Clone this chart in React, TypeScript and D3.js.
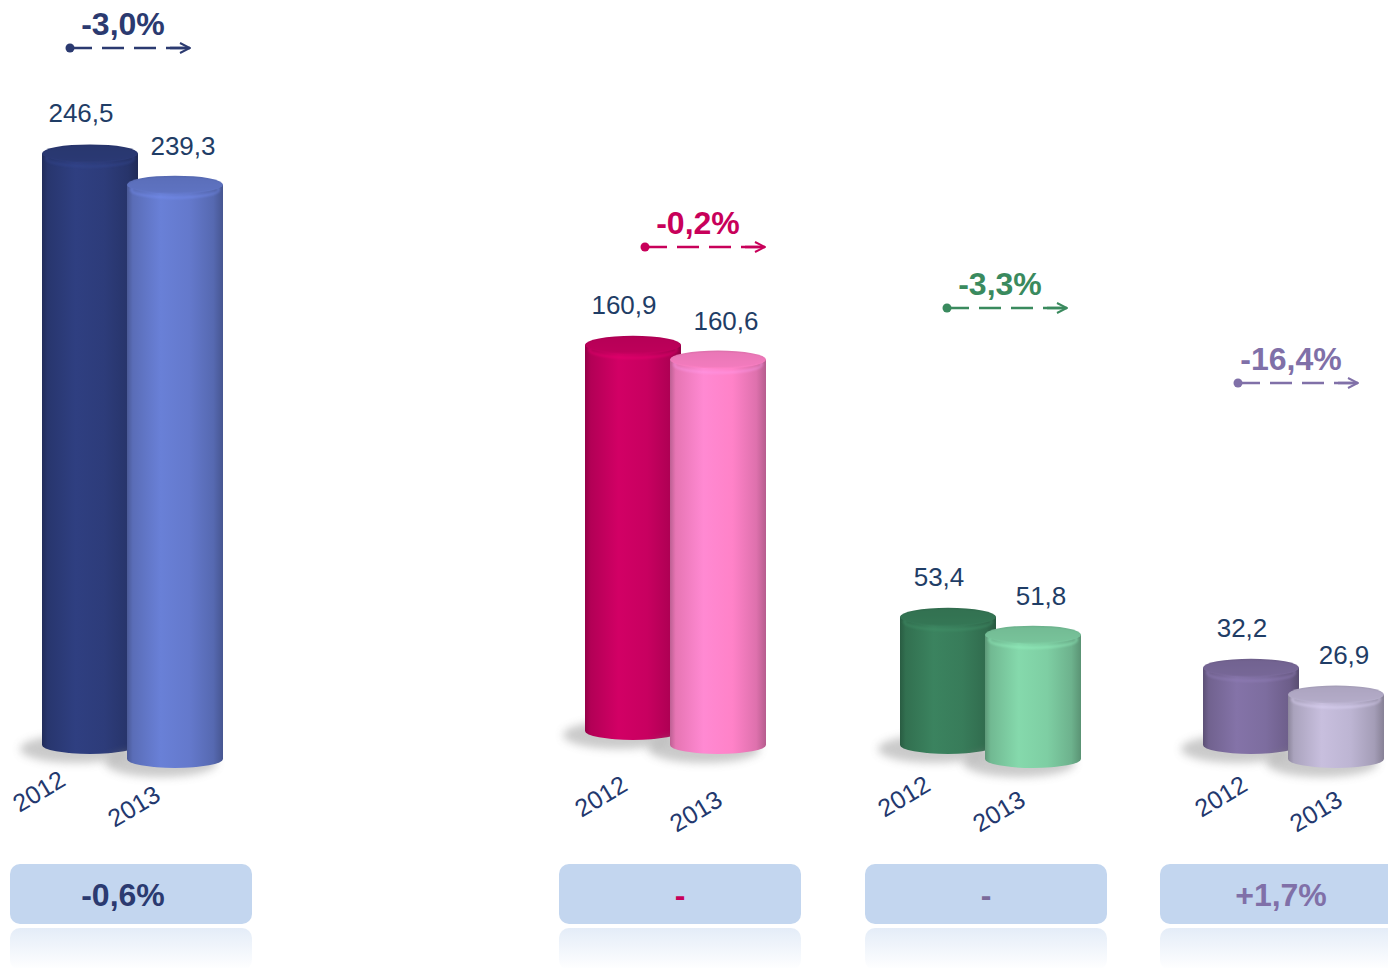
import React from "react";
import * as d3 from "d3";

// ---------- data ----------
const years = ["2012", "2013"];
const groups = ["A", "B", "C", "D"];
const values2012 = [246.5, 160.9, 53.4, 32.2];
const values2013 = [239.3, 160.6, 51.8, 26.9];
const changeLabels = ["-3,0%", "-0,2%", "-3,3%", "-16,4%"];
const boxLabels = ["-0,6%", "-", "-", "+1,7%"];

// ---------- styles / layout ----------
const colors2012 = ["#2c3b78", "#c4005e", "#377a58", "#7b6b9c"];
const colors2013 = ["#6277c8", "#fb80c4", "#7ccaa0", "#bab2cf"];
const changeColors = ["#2b3a70", "#c8005a", "#3a8a5e", "#8070a8"];
const boxTextColors = ["#2b3a70", "#c8005a", "#7a6a9a", "#8070a8"];

const groupCenters = [90, 633, 948, 1251]; // centre of the 2012 cylinder
const groupBaseShift = [0, -14, 0, 0];
const arrowPos = [
  { x: 70, y: 48 },
  { x: 645, y: 247 },
  { x: 947, y: 308 },
  { x: 1238, y: 383 },
];
const yearLabelDx = [-50, -31, -43, -29];
const yearLabelY = [793, 798, 798, 798];
const boxX = [10, 559, 865, 1160];
const boxTextDx = [-8, 0, 0, 0];

const W = 1388;
const H = 968;
const RX = 48;
const RY = 9;
const BASE2012 = 745;
const BASE2013 = 759;
const OFFSET2013 = 85;

const h = d3.scaleLinear().domain([0, 250]).range([0, 600]);
const FONT = "'Liberation Sans', Arial, sans-serif";

function shade(c: string, k: number) {
  const col = d3.color(c)!;
  return (k >= 0 ? col.brighter(k) : col.darker(-k)).formatHex();
}

function Cylinder({ id, cx, base, value, color }: { id: string; cx: number; base: number; value: number; color: string }) {
  const top = base - h(value);
  const x0 = cx - RX;
  const x1 = cx + RX;
  const body = `M${x0},${top} L${x0},${base} A${RX},${RY} 0 0 0 ${x1},${base} L${x1},${top} Z`;
  return (
    <g>
      <defs>
        <linearGradient id={`b-${id}`} x1="0" x2="1" y1="0" y2="0">
          <stop offset="0%" stopColor={shade(color, -0.8)} />
          <stop offset="6%" stopColor={shade(color, -0.25)} />
          <stop offset="35%" stopColor={shade(color, 0.2)} />
          <stop offset="65%" stopColor={shade(color, 0.05)} />
          <stop offset="90%" stopColor={shade(color, -0.35)} />
          <stop offset="100%" stopColor={shade(color, -0.9)} />
        </linearGradient>
        <linearGradient id={`t-${id}`} x1="0" x2="0" y1="0" y2="1">
          <stop offset="0%" stopColor={shade(color, -0.35)} />
          <stop offset="100%" stopColor={shade(color, 0.0)} />
        </linearGradient>
      </defs>
      <ellipse cx={cx - 14} cy={base + 4} rx={RX + 8} ry={RY + 5} fill="#8a8a8a" opacity={0.45} filter="url(#blur)" />
      <path d={body} fill={`url(#b-${id})`} />
      <ellipse cx={cx} cy={top + 5} rx={RX - 4} ry={RY - 1} fill="none" stroke={shade(color, 0.6)} strokeWidth={2} opacity={0.5} filter="url(#blur1)" />
      <ellipse cx={cx} cy={top} rx={RX} ry={RY} fill={`url(#t-${id})`} />
      <ellipse cx={cx} cy={top} rx={RX - 2} ry={RY - 1.5} fill={shade(color, -0.15)} opacity={0.6} />
    </g>
  );
}

export default function App() {
  return (
    <svg width={W} height={H} style={{ display: "block", position: "absolute", left: 0, top: 0, background: "#fff" }}>
      <defs>
        <filter id="blur" x="-30%" y="-100%" width="160%" height="300%">
          <feGaussianBlur stdDeviation="4" />
        </filter>
        <filter id="blur1" x="-20%" y="-100%" width="140%" height="300%">
          <feGaussianBlur stdDeviation="1" />
        </filter>
        <linearGradient id="refl" x1="0" x2="0" y1="0" y2="1">
          <stop offset="0%" stopColor="#c3d6ef" stopOpacity={0.45} />
          <stop offset="100%" stopColor="#c3d6ef" stopOpacity={0} />
        </linearGradient>
        {changeColors.map((c, i) => (
          <marker key={i} id={`arr-${i}`} viewBox="0 0 12 12" refX="11" refY="6" markerWidth="12" markerHeight="12" markerUnits="userSpaceOnUse" orient="auto">
            <path d="M1,1 L11,6 L1,11" fill="none" stroke={c} strokeWidth={2} />
          </marker>
        ))}
      </defs>

      {groups.map((g, i) => {
        const cx12 = groupCenters[i];
        const cx13 = cx12 + OFFSET2013;
        const b12 = BASE2012 + groupBaseShift[i];
        const b13 = BASE2013 + groupBaseShift[i];
        const top12 = b12 - h(values2012[i]) - RY;
        const top13 = b13 - h(values2013[i]) - RY;
        const a = arrowPos[i];
        return (
          <g key={g}>
            <Cylinder id={`${i}-12`} cx={cx12} base={b12} value={values2012[i]} color={colors2012[i]} />
            <Cylinder id={`${i}-13`} cx={cx13} base={b13} value={values2013[i]} color={colors2013[i]} />
            <text x={cx12 - 9} y={top12 - 22} textAnchor="middle" fontFamily={FONT} fontSize={26} fill="#1f3d66">
              {values2012[i].toFixed(1).replace(".", ",")}
            </text>
            <text x={cx13 + 8} y={top13 - 21} textAnchor="middle" fontFamily={FONT} fontSize={26} fill="#1f3d66">
              {values2013[i].toFixed(1).replace(".", ",")}
            </text>
            {years.map((yr, k) => (
              <text
                key={yr}
                transform={`translate(${cx12 + yearLabelDx[i] + k * 95},${yearLabelY[i] + k * 15}) rotate(-31)`}
                textAnchor="middle"
                dominantBaseline="middle"
                fontFamily={FONT}
                fontSize={25}
                fill="#23386e"
              >
                {yr}
              </text>
            ))}
            {/* change arrow */}
            <text x={a.x + 53} y={a.y - 13} textAnchor="middle" fontFamily={FONT} fontWeight="bold" fontSize={32} fill={changeColors[i]}>
              {changeLabels[i]}
            </text>
            <circle cx={a.x} cy={a.y} r={4.5} fill={changeColors[i]} />
            <line x1={a.x} y1={a.y} x2={a.x + 120} y2={a.y} stroke={changeColors[i]} strokeWidth={2.5} strokeDasharray="22,10" />
            <line x1={a.x + 100} y1={a.y} x2={a.x + 120} y2={a.y} stroke={changeColors[i]} strokeWidth={2.5} markerEnd={`url(#arr-${i})`} />
            {/* bottom box */}
            <rect x={boxX[i]} y={864} width={242} height={60} rx={10} fill="#c3d6ef" />
            <rect x={boxX[i]} y={928} width={242} height={42} rx={10} fill="url(#refl)" />
            <text x={boxX[i] + 121 + boxTextDx[i]} y={906} textAnchor="middle" fontFamily={FONT} fontWeight="bold" fontSize={32} fill={boxTextColors[i]}>
              {boxLabels[i]}
            </text>
          </g>
        );
      })}
    </svg>
  );
}
